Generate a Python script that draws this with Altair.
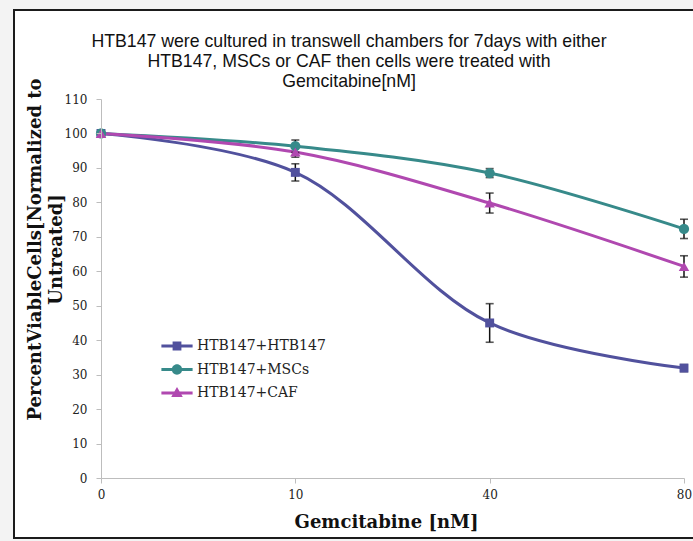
import altair as alt
import pandas as pd

# Gemcitabine doses (nM), shown as evenly spaced categories
doses = ["0", "10", "40", "80"]
series_names = ["HTB147+HTB147", "HTB147+MSCs", "HTB147+CAF"]

htb_vals = [100, 88.7, 45.0, 31.9]
htb_err = [0, 2.5, 5.6, 1.0]
msc_vals = [100, 96.3, 88.5, 72.3]
msc_err = [0, 1.8, 1.3, 2.8]
caf_vals = [100, 94.6, 79.8, 61.4]
caf_err = [0, 1.5, 2.9, 3.1]

colors = ["#51519d", "#378a8a", "#b048b0"]
marker_shapes = ["square", "circle", "triangle-up"]
marker_sizes = [80, 105, 110]

title_lines = [
    "HTB147 were cultured in transwell chambers  for 7days with either",
    "HTB147, MSCs or CAF then cells were treated with",
    "Gemcitabine[nM]",
]

# legend glyphs: a short line with the marker on top
legend_paths = [
    "M-3.9,-0.4H3.9V0.4H-3.9Z M-1.1,-1.1H1.1V1.1H-1.1Z",
    "M-3.9,-0.4H3.9V0.4H-3.9Z M-1.3,0A1.3,1.3 0 1,1 1.3,0A1.3,1.3 0 1,1 -1.3,0Z",
    "M-3.9,-0.4H3.9V0.4H-3.9Z M0,-1.5L1.45,1.0H-1.45Z",
]

rows = []
for name, vals, errs in zip(series_names, [htb_vals, msc_vals, caf_vals],
                            [htb_err, msc_err, caf_err]):
    for i, (d, v, e) in enumerate(zip(doses, vals, errs)):
        rows.append({"series": name, "dose": d, "order": i, "value": v,
                     "lo": v - e, "hi": v + e, "err": e})
df = pd.DataFrame(rows)

SERIF = "DejaVu Serif"

x_axis = alt.Axis(
    title="Gemcitabine [nM]", labelAngle=0, zindex=2,
    titleFont=SERIF, titleFontSize=18, titleFontWeight="bold",
    titleColor="#111", titleX=285, titleY=49, titleBaseline="alphabetic",
    labelFont=SERIF, labelFontSize=12, labelColor="#222", labelPadding=6,
    domainColor="#bdbdbd", tickColor="#bdbdbd", tickSize=5,
)
y_axis = alt.Axis(
    title=["PercentViableCells[Normalized to", "Untreated]"],
    values=list(range(0, 111, 10)), zindex=2,
    titleFont=SERIF, titleFontSize=18, titleFontWeight="bold",
    titleColor="#111", titleLineHeight=21, titleX=-57, titleY=150,
    titleAlign="center", titleAngle=-90, titleBaseline="bottom",
    labelFont=SERIF, labelFontSize=12, labelColor="#222", labelPadding=9,
    domainColor="#bdbdbd", tickColor="#bdbdbd", tickSize=5,
)
x_scale = alt.Scale(type="point", padding=0)
y_scale = alt.Scale(domain=[0, 110], nice=False, zero=True)


def xe():
    return alt.X("dose:O", sort=doses, scale=x_scale, axis=x_axis)


def ye(field):
    return alt.Y(field, type="quantitative", scale=y_scale, axis=y_axis)


leg = alt.Legend(
    title=None, orient="none", legendX=69, legendY=240,
    labelFont=SERIF, labelFontSize=14, labelColor="#222", labelOffset=13,
    symbolSize=64, symbolStrokeWidth=0, symbolOpacity=1, rowPadding=9.5,
    padding=0,
)
color_enc = alt.Color("series:N", sort=series_names,
                      scale=alt.Scale(domain=series_names, range=colors),
                      legend=leg)

one_row = pd.DataFrame({"k": [0]})

# white panel with a dark frame around the whole figure
frame = alt.Chart(one_row).mark_rect(
    fill="white", stroke="#1b1b1b", strokeWidth=2
).encode(
    x=alt.value(-87), x2=alt.value(620), y=alt.value(-89), y2=alt.value(439)
)

# three-line heading
heading = alt.Chart(one_row).mark_text(
    text=title_lines, font="Liberation Sans", fontSize=17.7, color="#111",
    align="center", baseline="alphabetic", lineHeight=20,
).encode(x=alt.value(248), y=alt.value(-52))

lines = alt.Chart(df).mark_line(
    interpolate="catmull-rom", strokeWidth=3
).encode(
    x=xe(), y=ye("value"), color=color_enc, detail="series:N", order="order:Q"
)

err_df = df[df["err"] > 0]
err_rules = alt.Chart(err_df).mark_rule(color="#111", strokeWidth=1.5).encode(
    x=xe(), y=ye("lo"), y2="hi:Q",
)
err_lo = alt.Chart(err_df).mark_tick(
    color="#111", thickness=1.6, size=8, orient="horizontal"
).encode(x=xe(), y=ye("lo"))
err_hi = alt.Chart(err_df).mark_tick(
    color="#111", thickness=1.6, size=8, orient="horizontal"
).encode(x=xe(), y=ye("hi"))

# markers, one layer per series
marker_layers = []
for name, col, shp, sz in zip(series_names, colors, marker_shapes, marker_sizes):
    marker_layers.append(
        alt.Chart(df[df["series"] == name]).mark_point(
            filled=True, opacity=1, shape=shp, size=sz, color=col
        ).encode(x=xe(), y=ye("value"))
    )

# invisible layer that only supplies the line+marker legend
legend_layer = alt.Chart(df).mark_point(filled=True, opacity=0).encode(
    x=xe(), y=ye("value"),
    color=color_enc,
    shape=alt.Shape("series:N", sort=series_names,
                    scale=alt.Scale(domain=series_names, range=legend_paths),
                    legend=leg),
)

chart = alt.layer(
    frame, heading, lines, err_rules, err_lo, err_hi, *marker_layers, legend_layer
).properties(
    width=583, height=379,
    padding={"left": 101, "top": 99, "right": 9, "bottom": 63},
    autosize=alt.AutoSizeParams(type="none"),
    background="#f3f3f3",
).configure_view(stroke=None).configure_axis(grid=False)

chart.save("out.html", embed_options={"renderer": "svg", "actions": False})
